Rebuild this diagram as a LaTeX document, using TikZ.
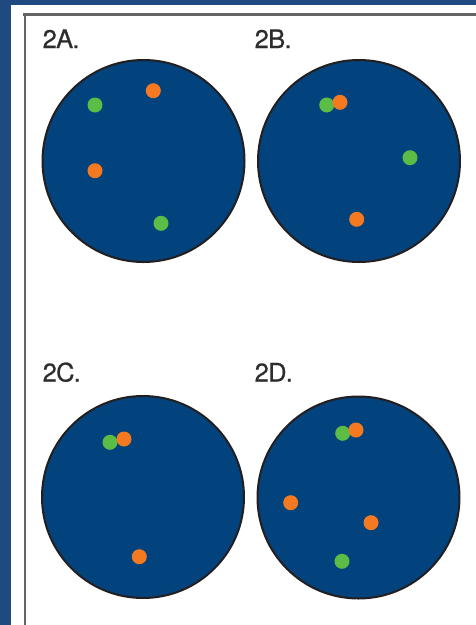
\documentclass[tikz,border=0pt]{standalone}
\usepackage{fontspec}
\setmainfont{TeX Gyre Heros}
\newfontfamily\labfont[FakeBold=0.6,LetterSpace=-3]{TeX Gyre Heros}
\definecolor{frameblue}{RGB}{31,74,127}
\definecolor{discblue}{RGB}{2,67,125}
\definecolor{dotorange}{RGB}{244,121,32}
\definecolor{dotgreen}{RGB}{91,189,70}
\definecolor{rimgray}{RGB}{35,31,32}
\definecolor{labelgray}{RGB}{45,45,45}
\definecolor{rulegray}{RGB}{100,100,100}
\begin{document}
\begin{tikzpicture}[x=1pt,y=-1pt,
  disc/.style={circle,draw=rimgray,line width=2pt,fill=discblue,minimum size=202pt,inner sep=0pt},
  odot/.style={circle,fill=dotorange,minimum size=15pt,inner sep=0pt},
  gdot/.style={circle,fill=dotgreen,minimum size=15pt,inner sep=0pt},
  lab/.style={anchor=base west,inner sep=0pt,text=labelgray,font=\labfont\fontsize{25.5}{30}\selectfont}]
\useasboundingbox (0,0) rectangle (476,625);
\fill[white] (0,0) rectangle (476,625);
% frame
\fill[frameblue] (0,0) rectangle (476,5);
\fill[frameblue] (0,0) rectangle (11,625);
\draw[rulegray,line width=3pt] (23,14) -- (476,14);
\draw[rulegray,line width=2pt] (25,14) -- (25,625);
% labels
\node[lab] (lA) at (42.5,48) {2A.};
\node[lab] (lB) at (254.5,48) {2B.};
\node[lab] (lC) at (42.5,381.5) {2C.};
\node[lab] (lD) at (254.5,381.5) {2D.};
% discs
\node[disc] (dA) at (143.5,161) {};
\node[disc] (dB) at (359,161) {};
\node[disc] (dC) at (143,497) {};
\node[disc] (dD) at (358.5,497.5) {};
% 2A
\node[gdot] (a1) at (95,105) {};
\node[gdot] (a2) at (161,223.3) {};
\node[odot] (a3) at (153.3,90.7) {};
\node[odot] (a4) at (95,170.7) {};
% 2B
\node[gdot] (b1) at (326.7,105) {};
\node[gdot] (b2) at (410,157.7) {};
\node[odot] (b3) at (340,102.3) {};
\node[odot] (b4) at (356.7,219.3) {};
% 2C
\node[gdot] (c1) at (110,442.3) {};
\node[odot] (c2) at (124,439) {};
\node[odot] (c3) at (139.3,556.7) {};
% 2D
\node[gdot] (e1) at (342.7,433.3) {};
\node[gdot] (e2) at (342,561.3) {};
\node[odot] (e3) at (356,430) {};
\node[odot] (e4) at (290.7,502.7) {};
\node[odot] (e5) at (371,522.7) {};
\end{tikzpicture}
\end{document}
